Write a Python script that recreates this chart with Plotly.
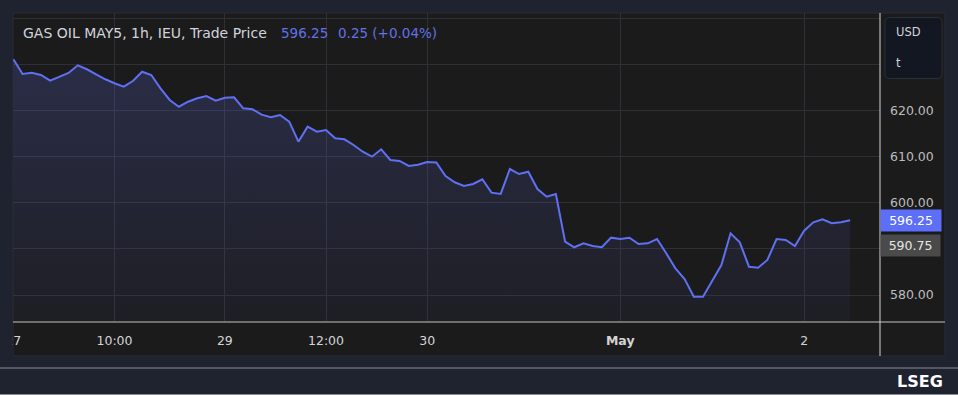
import plotly.graph_objects as go

# ---------------- data ----------------
prices = [631.24, 628.04, 628.33, 627.83, 626.59, 627.46, 628.26, 629.93, 629.07, 627.98,
          626.89, 626.02, 625.28, 626.52, 628.54, 627.83, 624.93, 622.39, 620.93, 622.02,
          622.76, 623.26, 622.24, 622.89, 622.98, 620.59, 620.37, 619.20, 618.63, 619.13,
          617.67, 613.33, 616.59, 615.50, 615.87, 614.07, 613.85, 612.61, 611.15, 610.07,
          611.67, 609.35, 609.13, 608.04, 608.33, 608.91, 608.80, 605.87, 604.50, 603.70,
          604.13, 605.15, 602.24, 601.96, 607.39, 606.30, 606.80, 603.04, 601.37, 601.96,
          591.59, 590.37, 591.24, 590.65, 590.37, 592.46, 592.17, 592.46, 591.09, 591.24,
          592.17, 589.07, 585.80, 583.48, 579.63, 579.63, 583.04, 586.52, 593.41, 591.46,
          586.15, 585.93, 587.61, 592.17, 591.96, 590.65, 593.98, 595.80, 596.46, 595.59,
          595.80, 596.25]
bar_index = list(range(len(prices)))

x_tick_pos = [0, 11, 23, 34, 45, 66, 86]
x_tick_labels = ["27", "10:00", "29", "12:00", "30", "<b>May</b>", "2"]

y_tick_vals = [580, 590, 600, 610, 620, 630, 640]
y_tick_labels = ["580.00", "", "600.00", "610.00", "620.00", "", ""]

title_text = "GAS OIL MAY5, 1h, IEU, Trade Price"
last_price = 596.25
change_text = "0.25 (+0.04%)"
ref_price = 590.75
unit_top = "USD"
unit_bottom = "t"
brand = "LSEG"

# ---------------- layout helpers (pixel -> paper) ----------------
W, H = 958, 395
L, R, T, B = 13, 880, 13, 322


def px(x):
    return (x - L) / (R - L)


def py(y):
    return (B - y) / (B - T)


OUTER = "#1f2330"
PANEL = "#1b1b1c"
LINE = "#5f70f3"
GRID = "#2e2f37"
FONT = "DejaVu Sans"

fig = go.Figure()
fig.add_trace(go.Scatter(
    x=bar_index, y=prices, mode="lines",
    line=dict(color=LINE, width=2),
    fill="tozeroy",
    fillgradient=dict(type="vertical",
                      colorscale=[[0, "rgba(100,110,230,0.04)"], [1, "rgba(100,110,230,0.22)"]],
                      start=574, stop=632),
    hoverinfo="skip", showlegend=False,
))

shapes = [
    # chart panel
    dict(type="rect", xref="paper", yref="paper", x0=px(13), x1=px(945), y0=py(356), y1=py(13),
         fillcolor=PANEL, line=dict(color="#2a2c33", width=1), layer="below"),
    # bottom separator lines
    dict(type="line", xref="paper", yref="paper", x0=px(0), x1=px(958), y0=py(368), y1=py(368),
         line=dict(color="#8a8d95", width=1), layer="above"),
    dict(type="line", xref="paper", yref="paper", x0=px(0), x1=px(958), y0=py(394.5), y1=py(394.5),
         line=dict(color="#8a8d95", width=1), layer="above"),
    # x axis line
    dict(type="line", xref="paper", yref="paper", x0=px(13), x1=px(945), y0=py(322), y1=py(322),
         line=dict(color="#8c8c8c", width=1.5), layer="above"),
    # right axis line
    dict(type="line", xref="paper", yref="paper", x0=px(880), x1=px(880), y0=py(356), y1=py(13),
         line=dict(color="#d6d6d6", width=1), layer="above"),
    # cover clipped part of first x label
    dict(type="rect", xref="paper", yref="paper", x0=px(0), x1=px(12.5), y0=py(357), y1=py(323),
         fillcolor=OUTER, line=dict(width=0), layer="above"),
    # unit box
    dict(type="path", xref="paper", yref="paper",
         path=(f"M {px(889)},{py(17.5)} L {px(938)},{py(17.5)} "
               f"Q {px(942)},{py(17.5)} {px(942)},{py(21.5)} L {px(942)},{py(74.5)} "
               f"Q {px(942)},{py(78.5)} {px(938)},{py(78.5)} L {px(889)},{py(78.5)} "
               f"Q {px(885)},{py(78.5)} {px(885)},{py(74.5)} L {px(885)},{py(21.5)} "
               f"Q {px(885)},{py(17.5)} {px(889)},{py(17.5)} Z"),
         fillcolor="#131722", line=dict(color="#2a2e39", width=1), layer="above"),
]

annotations = [
    dict(xref="paper", yref="paper", x=px(21), y=py(33), xanchor="left", yanchor="middle",
         text=title_text, showarrow=False, font=dict(family=FONT, size=14, color="#d1d4dc")),
    dict(xref="paper", yref="paper", x=px(279), y=py(33), xanchor="left", yanchor="middle",
         text=f"{last_price:.2f}", showarrow=False, font=dict(family=FONT, size=13.5, color="#6272e6")),
    dict(xref="paper", yref="paper", x=px(336), y=py(33), xanchor="left", yanchor="middle",
         text=change_text, showarrow=False, font=dict(family=FONT, size=13.5, color="#6272e6")),
    dict(xref="paper", yref="paper", x=px(894), y=py(32), xanchor="left", yanchor="middle",
         text=unit_top, showarrow=False, font=dict(family=FONT, size=11.5, color="#d1d4dc")),
    dict(xref="paper", yref="paper", x=px(894), y=py(63), xanchor="left", yanchor="middle",
         text=unit_bottom, showarrow=False, font=dict(family=FONT, size=11.5, color="#d1d4dc")),
    dict(xref="paper", yref="y", x=px(880), y=last_price, xanchor="left", yanchor="middle",
         text=f"{last_price:.2f}", showarrow=False, bgcolor="#5d6ef7", width=58, height=19,
         align="center", font=dict(family=FONT, size=12.5, color="#ffffff")),
    dict(xref="paper", yref="y", x=px(880), y=ref_price, xanchor="left", yanchor="middle",
         text=f"{ref_price:.2f}", showarrow=False, bgcolor="#4a4a4a", width=57, height=19,
         align="center", font=dict(family=FONT, size=12.5, color="#e6e6e6")),
    dict(xref="paper", yref="paper", x=px(945), y=py(381), xanchor="right", yanchor="middle",
         text=f"<b>{brand}</b>", showarrow=False,
         font=dict(family=FONT, size=16, color="#ffffff")),
]

fig.update_layout(
    width=W, height=H,
    margin=dict(l=L, r=W - R, t=T, b=H - B, pad=0, autoexpand=False),
    paper_bgcolor=OUTER, plot_bgcolor=PANEL,
    shapes=shapes, annotations=annotations,
    xaxis=dict(range=[-0.04, 94.25], tickvals=x_tick_pos, ticktext=x_tick_labels,
               showgrid=True, gridcolor=GRID, gridwidth=1, zeroline=False, showline=False,
               ticks="", ticklabelstandoff=9, automargin=False,
               tickfont=dict(family=FONT, size=12.5, color="#d4d4d4"), fixedrange=True),
    yaxis=dict(range=[574.13, 641.3], side="right", tickvals=y_tick_vals, ticktext=y_tick_labels,
               showgrid=True, gridcolor=GRID, gridwidth=1, zeroline=False, showline=False,
               ticks="", ticklabelstandoff=9, automargin=False,
               tickfont=dict(family=FONT, size=12.5, color="#bdbdbd"), fixedrange=True),
    showlegend=False,
)

fig.write_html(
    "out.html",
    config={"displayModeBar": False},
    post_script="document.body.style.margin='0';document.body.style.background='#1f2330';",
)
